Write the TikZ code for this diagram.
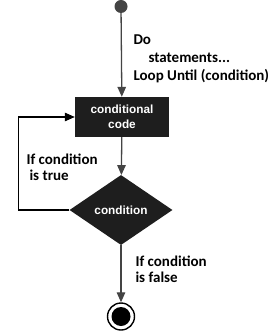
\documentclass[tikz,border=0pt]{standalone}
\usepackage{fontspec}
\setmainfont{Carlito}
\newfontfamily\boxfont{Liberation Sans}
\usetikzlibrary{arrows.meta,positioning,shapes.geometric}
\definecolor{flowgray}{RGB}{68,68,68}
\definecolor{boxblack}{RGB}{30,30,30}

\begin{document}
\begin{tikzpicture}[x=1pt,y=-1pt,>={Triangle[length=10pt,width=8.5pt]},
  every node/.style={font=\bfseries\fontsize{15}{18}\selectfont},
  flow/.style={draw=flowgray,line width=1.3pt},
  codebox/.style={rectangle,fill=boxblack,text=white,minimum width=94pt,minimum height=40pt,
    align=center,font=\boxfont\bfseries\fontsize{11.8}{15}\selectfont},
  condbox/.style={diamond,fill=boxblack,text=white,minimum width=103pt,minimum height=70pt,
    inner sep=0pt,aspect=1.47,font=\boxfont\bfseries\fontsize{11.8}{15}\selectfont}]
  \useasboundingbox[fill=white] (0,0) rectangle (277,331);
  \node[circle,fill=flowgray,minimum size=13pt,inner sep=0pt] (start) at (121,6.5) {};
  \node[codebox] (code) at (122,117) {conditional\\code};
  \node[condbox] (cond) at (121,210) {condition};
  \node[circle,draw=black,line width=1.4pt,minimum size=27pt,inner sep=0pt] (stopring) at (121,316.5) {};
  \node[circle,fill=black,minimum size=19pt,inner sep=0pt] (stop) at (121,316.5) {};
  \draw[flow,->] (start) -- (code);
  \draw[flow,->] (code) -- (cond);
  \draw[flow,draw=black,line width=1.1pt,->] (cond.west) -- ++(-51,0) |- (code.west);
  \draw[flow,->] (cond) -- (stopring);
  % labels
  \node[anchor=west,align=left] (dolabel) at (130,59)
    {Do\\\hspace*{15pt}statements...\\Loop Until (condition)};
  \node[anchor=west,align=left,font=\bfseries\fontsize{15}{16}\selectfont] (truelabel) at (23,167)
    {If condition\\\hspace*{3pt}is true};
  \node[anchor=west,align=left,font=\bfseries\fontsize{15}{16}\selectfont] (falselabel) at (132,269)
    {If condition\\is false};
\end{tikzpicture}
\end{document}
